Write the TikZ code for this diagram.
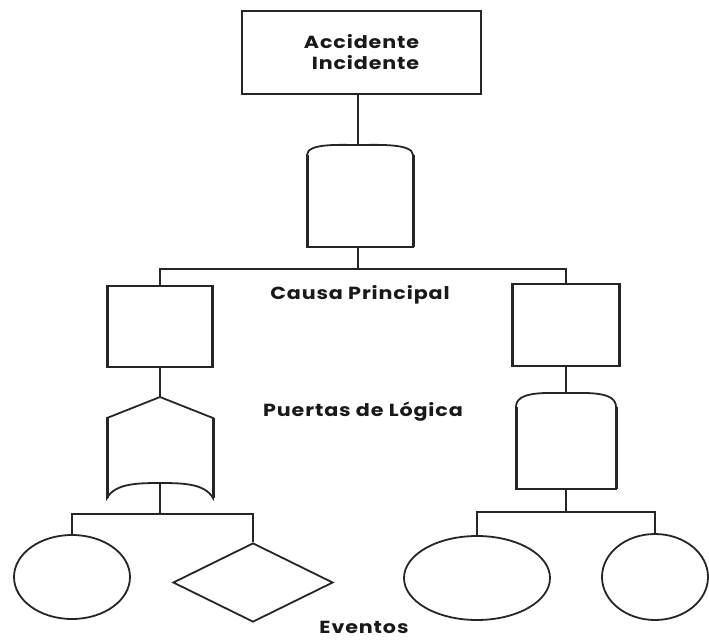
\documentclass[tikz,border=0pt]{standalone}
\usepackage{fontspec}
\setmainfont{Poppins}
\newfontfamily\lblfont{Poppins}[FakeStretch=1.18, LetterSpace=5]
\usetikzlibrary{shapes.geometric,calc}
\tikzset{
  ln/.style={line width=1.8pt, draw=black!85},
  side/.style={line width=3pt, draw=black!85},
  boxn/.style={ln, rectangle, inner sep=0pt},
  evn/.style={ln, ellipse, inner sep=0pt},
  lbl/.style={font=\lblfont\bfseries\fontsize{17.5}{21}\selectfont, text=black!90, inner sep=0pt}
}
\begin{document}
\begin{tikzpicture}[x=1pt,y=-1pt]
\useasboundingbox (0,0) rectangle (709,640);
% top box
\node[boxn, draw, minimum width=239pt, minimum height=83pt, align=center, lbl] (top) at (361.5,52.5) {Accidente\\\hspace*{8pt}Incidente};
% AND gate 1
\coordinate (g1t) at (358,145);
\coordinate (g1b) at (358,247);
\draw[ln] (307,155) .. controls (307,143) and (340,145) .. (g1t) .. controls (376,145) and (413,143) .. (413,155) -- (413,247) -- (307,247) -- cycle;
\draw[side] (307,155) -- (307,247) (413,155) -- (413,247);
\draw[ln] (g1t |- top.south) -- (g1t);
% bus 1
\coordinate (j1) at (358,269);
\draw[ln] (g1b) -- (j1);
\node[boxn, draw, minimum width=103pt, minimum height=81pt] (lbox) at (160,326.5) {};
\node[boxn, draw, minimum width=105pt, minimum height=82pt] (rbox) at (566,325) {};
\draw[side] (lbox.north west) -- (lbox.south west) (lbox.north east) -- (lbox.south east);
\draw[side] (rbox.north west) -- (rbox.south west) (rbox.north east) -- (rbox.south east);
\draw[ln] (lbox.north) |- (j1) -| (rbox.north);
% OR gate (left)
\coordinate (ogt) at (160,397);
\coordinate (ogb) at (160,483);
\draw[ln] (ogt) -- (213,418) -- (213,498) .. controls (205,484) and (185,483) .. (ogb) .. controls (135,483) and (115,484) .. (107,498) -- (107,418) -- cycle;
\draw[side] (107,418) -- (107,498) (213,418) -- (213,498);
\draw[ln] (lbox.south) -- (ogt);
% AND gate 2
\coordinate (g2t) at (566,393);
\coordinate (g2b) at (566,489);
\draw[ln] (516,407) .. controls (516,391) and (545,393) .. (g2t) .. controls (587,393) and (616,391) .. (616,407) -- (616,489) -- (516,489) -- cycle;
\draw[side] (516,407) -- (516,489) (616,407) -- (616,489);
\draw[ln] (rbox.south) -- (g2t);
% events left
\coordinate (j2) at (160,514);
\draw[ln] (ogb) -- (j2);
\node[evn, draw, minimum width=116pt, minimum height=84pt] (c1) at (72,577) {};
\node[ln, draw, diamond, inner sep=0pt, minimum width=160pt, minimum height=79pt] (dia) at (253,582.5) {};
\draw[ln] (c1.north) |- (j2) -| (dia.north);
% events right
\coordinate (j3) at (566,512);
\draw[ln] (g2b) -- (j3);
\node[evn, draw, minimum width=146pt, minimum height=84pt] (e1) at (477,578) {};
\node[evn, draw, minimum width=106pt, minimum height=86pt] (e2) at (655,577) {};
\draw[ln] (e1.north) |- (j3) -| (e2.north);
% labels
\node[lbl] (causa) at (360,295) {Causa Principal};
\node[lbl] (puertas) at (363,412) {Puertas de Lógica};
\node[lbl] (eventos) at (364,627) {Eventos};
\end{tikzpicture}
\end{document}
